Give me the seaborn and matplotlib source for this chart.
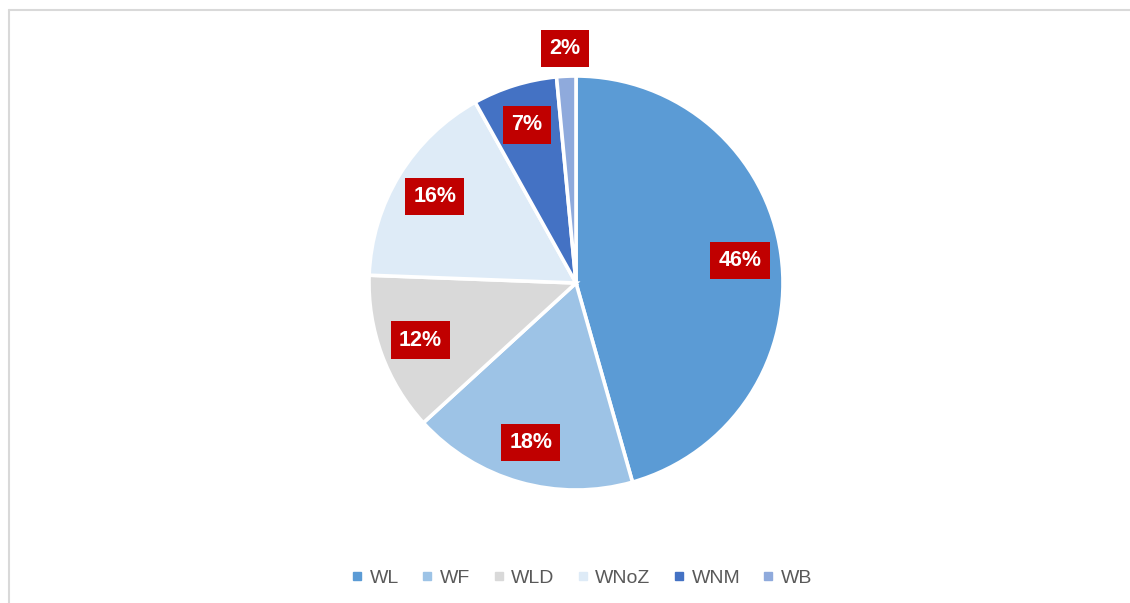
import matplotlib
matplotlib.use("Agg")
import matplotlib.pyplot as plt
from matplotlib.lines import Line2D
import seaborn as sns
import numpy as np

categories = ["WL", "WF", "WLD", "WNoZ", "WNM", "WB"]
shares = [45.6, 17.6, 12.4, 16.3, 6.6, 1.5]
colors = ["#5B9BD5", "#9DC3E6", "#D9D9D9", "#DEEBF7", "#4472C4", "#8FAADC"]

sns.set_theme(style="white")
plt.rcParams["font.family"] = ["Liberation Sans", "DejaVu Sans"]

W, H = 1130, 603
fig = plt.figure(figsize=(W / 100, H / 100), dpi=100)
fig.patch.set_facecolor("white")

# chart frame (light gray border, partially off-canvas)
fig.add_artist(Line2D([8.5 / W, 8.5 / W], [0, 1 - 10 / H], color="#D9D9D9", lw=1.5))
fig.add_artist(Line2D([8.5 / W, 1], [1 - 10 / H, 1 - 10 / H], color="#D9D9D9", lw=1.5))

cx, cy, R = 576, 283, 207
ax = fig.add_axes([(cx - R) / W, (H - cy - R) / H, 2 * R / W, 2 * R / H])
pal = sns.color_palette(colors)
wedges, _ = ax.pie(shares, colors=pal, startangle=90, counterclock=False,
                   radius=1, wedgeprops=dict(edgecolor="white", linewidth=2.6))
ax.set_xlim(-1, 1)
ax.set_ylim(-1, 1)
ax.set_axis_off()

total = sum(shares)
for w, v in zip(wedges, shares):
    mid = np.deg2rad((w.theta1 + w.theta2) / 2)
    frac = v / total
    r = 1.135 if frac < 0.03 else 0.8
    ax.text(r * np.cos(mid), r * np.sin(mid), f"{round(v):.0f}%",
            ha="center", va="center", color="white", fontsize=15.5,
            fontweight="bold",
            bbox=dict(boxstyle="square,pad=0.38", facecolor="#C00000",
                      edgecolor="none"))

handles = [Line2D([0], [0], marker="s", linestyle="none", markersize=6,
                  markerfacecolor=c, markeredgecolor=c) for c in colors]
leg = fig.legend(handles, categories, loc="center",
                 bbox_to_anchor=(582 / W, 1 - 578 / H), ncol=6, frameon=False,
                 fontsize=14, handlelength=0.6, handletextpad=0.35,
                 columnspacing=1.15)
for t in leg.get_texts():
    t.set_color("#595959")

fig.savefig("out.png", dpi=100, facecolor="white")
